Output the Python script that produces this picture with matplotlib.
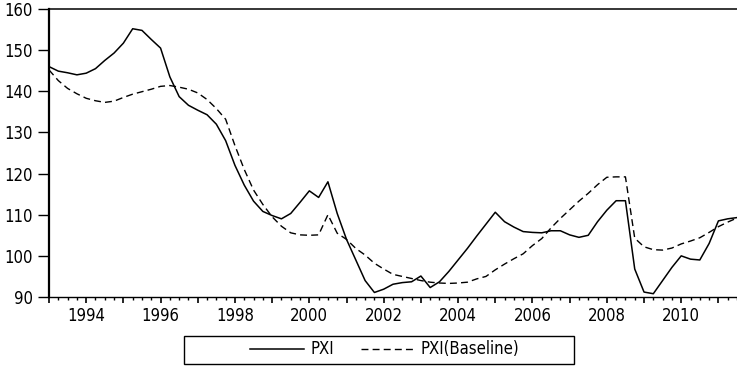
import numpy as np
import matplotlib
matplotlib.use("Agg")
import matplotlib.pyplot as plt
from matplotlib.patches import Rectangle
from matplotlib.ticker import MultipleLocator

plt.rcParams['font.family'] = ['DejaVu Sans']
plt.rcParams['font.stretch'] = 'condensed'

# Quarterly data, 1993Q1 - 2011Q3
START_YEAR = 1993
pxi = [146.0, 144.9, 144.5, 144.0, 144.4, 145.5, 147.5, 149.3, 151.7, 155.2,
       154.8, 152.6, 150.5, 143.5, 138.7, 136.6, 135.4, 134.3, 132.0, 128.0,
       122.0, 117.2, 113.3, 110.8, 109.8, 109.0, 110.3, 113.0, 115.8, 114.2,
       118.0, 110.3, 104.0, 99.0, 94.0, 91.1, 91.9, 93.1, 93.5, 93.7,
       95.1, 92.3, 93.7, 96.2, 99.0, 101.8, 104.8, 107.7, 110.6, 108.3,
       107.0, 105.9, 105.7, 105.6, 106.1, 106.1, 105.1, 104.5, 105.0, 108.3,
       111.1, 113.4, 113.4, 96.8, 91.2, 90.8, 94.0, 97.2, 100.0, 99.2,
       99.0, 103.0, 108.5, 109.0, 109.3]
pxi_base = [145.2, 142.6, 140.7, 139.4, 138.3, 137.7, 137.3, 137.6, 138.5, 139.3,
            139.9, 140.5, 141.2, 141.4, 141.0, 140.5, 139.6, 138.0, 135.8, 133.2,
            126.8, 121.0, 116.0, 112.5, 109.5, 107.2, 105.6, 105.1, 105.0, 105.1,
            110.0, 105.5, 104.0, 101.8, 100.2, 98.2, 96.8, 95.5, 95.0, 94.5,
            94.0, 93.6, 93.4, 93.3, 93.4, 93.6, 94.4, 95.0, 96.6, 98.0,
            99.3, 100.5, 102.5, 104.2, 106.8, 109.1, 111.2, 113.3, 115.2, 117.3,
            119.1, 119.2, 119.2, 104.3, 102.2, 101.5, 101.4, 101.9, 102.9, 103.6,
            104.4, 105.7, 107.1, 108.2, 109.2]
years = START_YEAR + np.arange(len(pxi)) / 4.0

fig = plt.figure(figsize=(7.37, 3.67), dpi=100)
ax = fig.add_axes([49 / 737, 1 - 297 / 367, 1 - 49 / 737, (297 - 9) / 367])

ax.plot(years, pxi, color='black', lw=1.1, label='PXI')
ax.plot(years, pxi_base, color='black', lw=1.0, dashes=(5, 3), label='PXI(Baseline)')

ax.set_xlim(1993, 2011.5)
ax.set_ylim(90, 160)
ax.set_yticks(range(90, 161, 10))
ax.xaxis.set_minor_locator(MultipleLocator(0.25))

ax.spines['right'].set_visible(False)
ax.spines['left'].set_linewidth(1.6)
ax.spines['top'].set_linewidth(1.1)
ax.spines['bottom'].set_linewidth(1.0)

ax.tick_params(axis='y', direction='out', length=8, width=1, pad=3.5, labelsize=12)
ax.tick_params(axis='x', which='major', direction='out', length=4.5, width=1.2, pad=3, labelsize=12)
ax.tick_params(axis='x', which='minor', direction='out', length=2.5, width=1.0)

# major tick every year, labels every 2 years
ax.set_xticks(range(1993, 2012))
ax.set_xticklabels([str(y) if y % 2 == 0 else '' for y in range(1993, 2012)])

# legend below the plot with a plain box
fig.legend(loc='center', bbox_to_anchor=(385 / 737, 1 - 349.5 / 367), ncol=2,
           frameon=False, fontsize=12, handlelength=3.2, handletextpad=0.4,
           columnspacing=1.6)
fig.patches.append(Rectangle((184 / 737, 1 - 363.5 / 367), 390 / 737, 28 / 367,
                             transform=fig.transFigure, fill=False,
                             edgecolor='black', lw=1.0))

fig.savefig('out.png', dpi=100, facecolor='white')
